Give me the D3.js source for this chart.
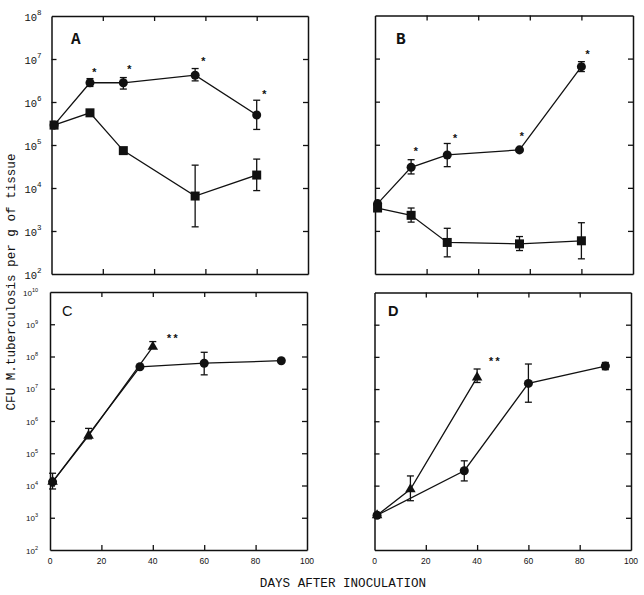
<!DOCTYPE html>
<html><head><meta charset="utf-8">
<script src="https://cdn.jsdelivr.net/npm/d3@7"></script>
<style>body{margin:0;background:#fff}svg{display:block}</style>
</head><body><svg id="c" width="644" height="595"></svg>
<script>
// ---- data ----
const xTickValues = [0, 20, 40, 60, 80, 100];
const yTicksTop = [1e2, 1e3, 1e4, 1e5, 1e6, 1e7, 1e8];
const yTicksBottom = [1e2, 1e3, 1e4, 1e5, 1e6, 1e7, 1e8, 1e9, 1e10];
const panelLabels = ["A", "B", "C", "D"];

// Panel A
const aCircDays = [1, 15, 28, 56, 80];
const aCircVals = [2.9e5, 2.8e6, 2.8e6, 4.2e6, 5.0e5];
const aCircLo   = [null, 2.3e6, 2.0e6, 3.1e6, 2.3e5];
const aCircHi   = [null, 3.5e6, 3.7e6, 6.0e6, 1.1e6];
const aSqDays = [1, 15, 28, 56, 80];
const aSqVals = [2.9e5, 5.6e5, 7.4e4, 6.5e3, 2.0e4];
const aSqLo   = [null, null, null, 1.25e3, 8.7e3];
const aSqHi   = [null, null, null, 3.4e4, 4.7e4];
const aStarDays = [16.7, 30.3, 59.2, 83];
const aStarVals = [5.4e6, 6.2e6, 9.5e6, 1.7e6];

// Panel B
const bCircDays = [1, 14, 28, 56, 80];
const bCircVals = [4.3e3, 3.0e4, 5.8e4, 7.6e4, 6.5e6];
const bCircLo   = [null, 2.1e4, 3.1e4, null, 5.0e6];
const bCircHi   = [null, 4.5e4, 1.07e5, null, 8.5e6];
const bSqDays = [1, 14, 28, 56, 80];
const bSqVals = [3.4e3, 2.3e3, 540, 500, 590];
const bSqLo   = [null, 1.6e3, 250, 350, 225];
const bSqHi   = [null, 3.4e3, 1.15e3, 740, 1.55e3];
const bStarDays = [15.8, 31, 56.9, 82.4];
const bStarVals = [7.9e4, 1.55e5, 1.7e5, 1.4e7];

// Panel C
const cCircDays = [1, 35, 60, 90];
const cCircVals = [1.3e4, 4.8e7, 6.2e7, 7.4e7];
const cCircLo   = [7.8e3, null, 2.7e7, null];
const cCircHi   = [2.4e4, null, 1.35e8, null];
const cTriDays = [1, 15, 40];
const cTriVals = [1.3e4, 3.5e5, 2.0e8];
const cTriLo   = [null, 2.8e5, null];
const cTriHi   = [null, 5.9e5, 2.9e8];
const cStarDays = [47.6];
const cStarVals = [4.1e8];

// Panel D
const dCircDays = [1, 35, 60, 90];
const dCircVals = [1.2e3, 2.9e4, 1.5e7, 5.2e7];
const dCircLo   = [null, 1.4e4, 3.9e6, 4.0e7];
const dCircHi   = [null, 5.9e4, 6.0e7, 6.7e7];
const dTriDays = [1, 14, 40];
const dTriVals = [1.2e3, 7.7e3, 2.3e7];
const dTriLo   = [null, 3.4e3, 1.6e7];
const dTriHi   = [null, 2.0e4, 4.2e7];
const dStarDays = [46.7];
const dStarVals = [8.0e7];

// ---- drawing ----
const svg = d3.select("#c");
const mono = "'Liberation Mono','Courier New',monospace";
const sans = "'Liberation Sans',Arial,sans-serif";

function series(days, vals, lo, hi, shape) {
  return {shape, pts: days.map((d, i) => ({d, v: vals[i], lo: lo[i], hi: hi[i]}))};
}

const panels = [
  {label: panelLabels[0], box: [51.5, 16, 308, 274], yt: yTicksTop, labelFont: mono, labelBold: true, lx: 71, ly: 43.5,
   ylab: "mono", xlab: false,
   series: [series(aCircDays, aCircVals, aCircLo, aCircHi, "circle"), series(aSqDays, aSqVals, aSqLo, aSqHi, "square")],
   stars: aStarDays.map((d, i) => ({d, v: aStarVals[i], t: "*"}))},
  {label: panelLabels[1], box: [375, 15.5, 633, 274], yt: yTicksTop, labelFont: mono, labelBold: true, lx: 396, ly: 43.5,
   ylab: null, xlab: false,
   series: [series(bCircDays, bCircVals, bCircLo, bCircHi, "circle"), series(bSqDays, bSqVals, bSqLo, bSqHi, "square")],
   stars: bStarDays.map((d, i) => ({d, v: bStarVals[i], t: "*"}))},
  {label: panelLabels[2], box: [50, 292, 307, 550], yt: yTicksBottom, labelFont: sans, labelBold: false, lx: 62, ly: 315.5,
   ylab: "sans", xlab: true,
   series: [series(cCircDays, cCircVals, cCircLo, cCircHi, "circle"), series(cTriDays, cTriVals, cTriLo, cTriHi, "triangle")],
   stars: cStarDays.map((d, i) => ({d, v: cStarVals[i], t: "**"}))},
  {label: panelLabels[3], box: [374.5, 292.5, 631, 550], yt: yTicksBottom, labelFont: sans, labelBold: true, lx: 388, ly: 315.5,
   ylab: null, xlab: true,
   series: [series(dCircDays, dCircVals, dCircLo, dCircHi, "circle"), series(dTriDays, dTriVals, dTriLo, dTriHi, "triangle")],
   stars: dStarDays.map((d, i) => ({d, v: dStarVals[i], t: "**"}))}
];

const expSup = {2:"2",3:"3",4:"4",5:"5",6:"6",7:"7",8:"8",9:"9",10:"10"};

panels.forEach(p => {
  const [x0, y0, x1, y1] = p.box;
  const x = d3.scaleLinear().domain([0, 100]).range([x0, x1]);
  const y = d3.scaleLog().domain([p.yt[0], p.yt[p.yt.length - 1]]).range([y1, y0]);
  const g = svg.append("g");
  const inner = p.yt.slice(1, -1);
  const xin = xTickValues.slice(1, -1);

  const axes = [
    [d3.axisBottom(x).tickValues(xin), `translate(0,${y1})`],
    [d3.axisTop(x).tickValues(xin), `translate(0,${y0})`],
    [d3.axisLeft(y).tickValues(inner), `translate(${x0},0)`],
    [d3.axisRight(y).tickValues(inner), `translate(${x1},0)`]
  ];
  axes.forEach(([ax, tr]) => {
    const a = g.append("g").attr("transform", tr)
      .call(ax.tickSizeInner(-5).tickSizeOuter(0).tickFormat(""));
    a.select(".domain").attr("stroke", "#111").attr("stroke-width", 1.5);
    a.selectAll(".tick line").attr("stroke", "#111").attr("stroke-width", 1.3);
  });

  // y tick labels
  if (p.ylab === "mono") {
    p.yt.forEach(v => {
      const t = g.append("text").attr("x", x0 - 10).attr("y", y(v) + 5)
        .attr("text-anchor", "end").attr("font-family", mono).attr("font-size", 10.5).attr("fill", "#111");
      t.append("tspan").text("10");
      t.append("tspan").attr("font-size", 7.5).attr("dy", -6).text(expSup[Math.round(Math.log10(v))]);
    });
  } else if (p.ylab === "sans") {
    p.yt.forEach(v => {
      const t = g.append("text").attr("x", x0 - 12).attr("y", y(v) + 3.5)
        .attr("text-anchor", "end").attr("font-family", sans).attr("font-size", 8).attr("fill", "#111");
      t.append("tspan").text("10");
      t.append("tspan").attr("font-size", 5.5).attr("dy", -4).text(expSup[Math.round(Math.log10(v))]);
    });
  }
  if (p.xlab) {
    xTickValues.forEach(v => {
      g.append("text").attr("x", x(v)).attr("y", y1 + 14).attr("text-anchor", "middle")
        .attr("font-family", sans).attr("font-size", 8.5).attr("fill", "#111").text(v);
    });
  }

  // panel letter
  g.append("text").attr("x", p.lx).attr("y", p.ly).attr("font-family", p.labelFont)
    .attr("font-weight", p.labelBold ? "bold" : "normal").attr("font-size", p.labelFont === mono ? 16 : 14.5)
    .attr("fill", "#111").text(p.label);

  // series
  const line = d3.line().x(d => x(d.d)).y(d => y(d.v));
  p.series.forEach(s => {
    g.append("path").datum(s.pts).attr("d", line).attr("fill", "none")
      .attr("stroke", "#111").attr("stroke-width", 1.3);
  });
  p.series.forEach(s => {
    s.pts.forEach(pt => {
      if (pt.lo == null && pt.hi == null) return;
      const lo = pt.lo == null ? pt.v : pt.lo;
      const hi = pt.hi == null ? pt.v : pt.hi;
      const cx = x(pt.d);
      g.append("line").attr("x1", cx).attr("x2", cx).attr("y1", y(lo)).attr("y2", y(hi))
        .attr("stroke", "#111").attr("stroke-width", 1.3);
      if (pt.hi != null) g.append("line").attr("x1", cx - 3.5).attr("x2", cx + 3.5).attr("y1", y(hi)).attr("y2", y(hi))
        .attr("stroke", "#111").attr("stroke-width", 1.3);
      if (pt.lo != null) g.append("line").attr("x1", cx - 3.5).attr("x2", cx + 3.5).attr("y1", y(lo)).attr("y2", y(lo))
        .attr("stroke", "#111").attr("stroke-width", 1.3);
    });
  });
  p.series.forEach(s => {
    const sym = s.shape === "circle" ? d3.symbol(d3.symbolCircle, 64)
      : s.shape === "square" ? d3.symbol(d3.symbolSquare, 81)
      : d3.symbol(d3.symbolTriangle, 48);
    g.selectAll(null).data(s.pts).join("path")
      .attr("transform", d => `translate(${x(d.d)},${y(d.v)})`)
      .attr("d", sym).attr("fill", "#111");
  });

  // significance marks
  p.stars.forEach(st => {
    g.append("text").attr("x", x(st.d)).attr("y", y(st.v) + 5.5).attr("text-anchor", "middle")
      .attr("font-family", mono).attr("font-weight", "bold").attr("font-size", 11).attr("fill", "#111").text(st.t);
  });
});

// axis titles
svg.append("text").attr("transform", "translate(15,282) rotate(-90)").attr("text-anchor", "middle")
  .attr("font-family", mono).attr("font-size", 12.6).attr("fill", "#111")
  .text("CFU M.tuberculosis per g of tissue");
svg.append("text").attr("x", 343).attr("y", 587).attr("text-anchor", "middle")
  .attr("font-family", mono).attr("font-size", 12.6).attr("fill", "#111")
  .text("DAYS AFTER INOCULATION");
</script></body></html>
